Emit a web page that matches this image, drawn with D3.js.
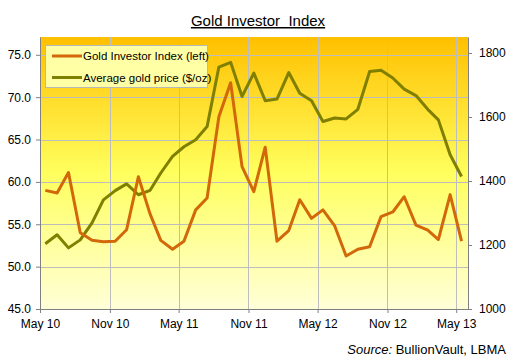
<!DOCTYPE html>
<html>
<head>
<meta charset="utf-8">
<script src="https://cdn.jsdelivr.net/npm/d3@7"></script>
<style>
  html, body { margin: 0; padding: 0; background: #ffffff; }
  svg { display: block; }
  text { font-family: "Liberation Sans", Arial, sans-serif; }
</style>
</head>
<body>
<svg id="chart" width="511" height="359"></svg>
<script>
// ---- data ----
const months = [
  "2010-05","2010-06","2010-07","2010-08","2010-09","2010-10","2010-11","2010-12",
  "2011-01","2011-02","2011-03","2011-04","2011-05","2011-06","2011-07","2011-08",
  "2011-09","2011-10","2011-11","2011-12","2012-01","2012-02","2012-03","2012-04",
  "2012-05","2012-06","2012-07","2012-08","2012-09","2012-10","2012-11","2012-12",
  "2013-01","2013-02","2013-03","2013-04","2013-05"
];
const goldInvestorIndex = [
  59.0, 58.7, 61.1, 54.0, 53.1, 52.95, 53.0, 54.35, 60.6, 56.2, 53.1, 52.05,
  53.0, 56.7, 58.1, 67.7, 71.7, 61.8, 58.85, 64.1, 53.0, 54.25, 57.9, 55.7,
  56.7, 54.8, 51.25, 52.05, 52.35, 55.9, 56.45, 58.25, 54.9, 54.3, 53.2, 58.5, 53.0
];
const goldPrice = [
  1204, 1232, 1191, 1216, 1269, 1341, 1370, 1391, 1357, 1371, 1425, 1477,
  1507, 1529, 1570, 1756, 1771, 1664, 1737, 1651, 1656, 1739, 1674, 1651,
  1586, 1597, 1594, 1624, 1742, 1746, 1722, 1687, 1667, 1624, 1591, 1482, 1414
];
const leftTicks = [45, 50, 55, 60, 65, 70, 75];
const rightTicks = [1000, 1200, 1400, 1600, 1800];
const xTickMonths = ["2010-05","2010-11","2011-05","2011-11","2012-05","2012-11","2013-05"];
const xTickLabels = ["May 10","Nov 10","May 11","Nov 11","May 12","Nov 12","May 13"];
const seriesNames = ["Gold Investor Index (left)", "Average gold price ($/oz)"];
const seriesColors = ["#D2680A", "#7F7F00"];
const titleText = "Gold Investor  Index";

// ---- layout ----
const svg = d3.select("#chart");
const L = 40, R = 468, T = 37, B = 309;
const parse = d3.timeParse("%Y-%m");
const mid = s => d3.timeDay.offset(parse(s), 14);

const x = d3.scaleTime()
  .domain([parse("2010-05"), parse("2013-06")])
  .range([L, R]);
const yL = d3.scaleLinear().domain([45, 77.1]).range([B, T]);
const yR = d3.scaleLinear().domain([1000, 1850]).range([B, T]);

// background gradient
const defs = svg.append("defs");
const grad = defs.append("linearGradient").attr("id", "bg")
  .attr("x1", 0).attr("y1", 0).attr("x2", 0).attr("y2", 1);
grad.append("stop").attr("offset", "0%").attr("stop-color", "#FFC000");
grad.append("stop").attr("offset", "50%").attr("stop-color", "#FFFF5E");
grad.append("stop").attr("offset", "100%").attr("stop-color", "#FFFFD8");

svg.append("rect").attr("x", L).attr("y", T)
  .attr("width", R - L).attr("height", B - T).attr("fill", "url(#bg)");

// gridlines
const grid = svg.append("g").attr("stroke", "#BDBDBD").attr("stroke-width", 1);
grid.selectAll("line.h").data(leftTicks.slice(1)).join("line")
  .attr("x1", L).attr("x2", R)
  .attr("y1", d => Math.round(yL(d)) + 0.5).attr("y2", d => Math.round(yL(d)) + 0.5);
grid.selectAll("line.v").data(xTickMonths.slice(1)).join("line")
  .attr("y1", T).attr("y2", B)
  .attr("x1", d => Math.round(x(parse(d))) + 0.5).attr("x2", d => Math.round(x(parse(d))) + 0.5);

// axes
const axisColor = "#808080";
function styleAxis(g) {
  g.select(".domain").attr("stroke", axisColor);
  g.selectAll(".tick line").attr("stroke", axisColor);
  g.selectAll(".tick text").attr("fill", "#000").attr("font-size", 12)
    .attr("font-family", "'Liberation Sans', Arial, sans-serif");
}
svg.append("g").attr("transform", `translate(${L},0)`)
  .call(d3.axisLeft(yL).tickValues(leftTicks).tickFormat(d3.format(".1f"))
    .tickSizeInner(4).tickSizeOuter(0).tickPadding(5))
  .call(styleAxis);
svg.append("g").attr("transform", `translate(${R},0)`)
  .call(d3.axisRight(yR).tickValues(rightTicks).tickFormat(d3.format("d"))
    .tickSizeInner(4).tickSizeOuter(0).tickPadding(7))
  .call(styleAxis);
const xAxis = svg.append("g").attr("transform", `translate(0,${B})`)
  .call(d3.axisBottom(x).tickValues(xTickMonths.map(parse))
    .tickFormat((d, i) => xTickLabels[i]).tickSizeInner(4).tickSizeOuter(0).tickPadding(6))
  .call(styleAxis);
xAxis.select(".domain").attr("d", `M${L},0.5H${R}`);

// lines
const lineL = d3.line().x((d, i) => x(mid(months[i]))).y(d => yL(d));
const lineR = d3.line().x((d, i) => x(mid(months[i]))).y(d => yR(d));
svg.append("path").datum(goldPrice).attr("d", lineR)
  .attr("fill", "none").attr("stroke", seriesColors[1]).attr("stroke-width", 3)
  .attr("stroke-linejoin", "round");
svg.append("path").datum(goldInvestorIndex).attr("d", lineL)
  .attr("fill", "none").attr("stroke", seriesColors[0]).attr("stroke-width", 3)
  .attr("stroke-linejoin", "round");

// legend
const lg = svg.append("g");
lg.append("rect").attr("x", 45.5).attr("y", 45.5).attr("width", 162).attr("height", 42)
  .attr("fill", "#FFFFA6").attr("stroke", "#B8B8B8");
seriesNames.forEach((name, i) => {
  const yy = 56 + i * 21.5;
  lg.append("line").attr("x1", 52).attr("x2", 82).attr("y1", yy).attr("y2", yy)
    .attr("stroke", seriesColors[i]).attr("stroke-width", 3);
  lg.append("text").attr("x", 83).attr("y", yy + 4).attr("font-size", 11.5)
    .attr("fill", "#000").text(name);
});

// title
svg.append("text").attr("x", 258).attr("y", 26).attr("text-anchor", "middle")
  .attr("font-size", 15).attr("fill", "#000")
  .style("white-space", "pre").style("text-decoration", "underline")
  .text(titleText);

// source
const src = svg.append("text").attr("x", 506).attr("y", 354).attr("text-anchor", "end")
  .attr("font-size", 13).attr("fill", "#000");
src.append("tspan").attr("font-style", "italic").text("Source:");
src.append("tspan").text(" BullionVault, LBMA");
</script>
</body>
</html>
